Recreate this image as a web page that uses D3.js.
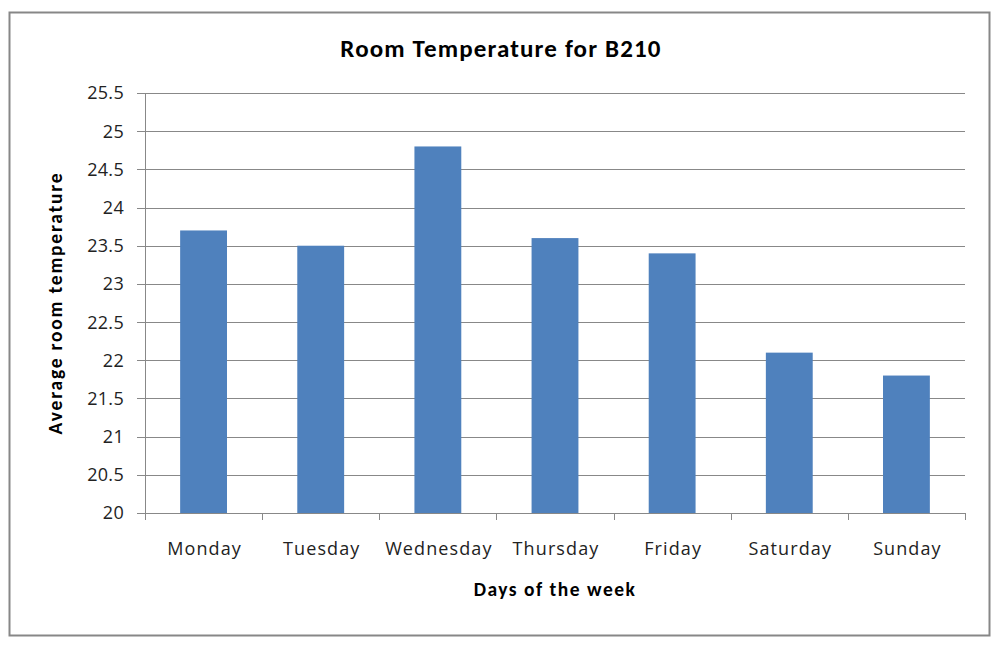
<!DOCTYPE html>
<html>
<head>
<meta charset="utf-8">
<script src="https://cdn.jsdelivr.net/npm/d3@7"></script>
<style>
  body { margin: 0; background: #fff; }
  svg text { font-family: Carlito, Calibri, Lato, "Open Sans", sans-serif; }
  svg text.tick { font-family: "Open Sans", Lato, sans-serif; }
</style>
</head>
<body>
<div id="chart"></div>
<script>
var days = ["Monday", "Tuesday", "Wednesday", "Thursday", "Friday", "Saturday", "Sunday"];
var temps = [23.7, 23.5, 24.8, 23.6, 23.4, 22.1, 21.8];
var yTicks = [20, 20.5, 21, 21.5, 22, 22.5, 23, 23.5, 24, 24.5, 25, 25.5];

var W = 1000, H = 645;
var margin = { top: 93, right: 35, bottom: 132, left: 145 };
var width = W - margin.left - margin.right;
var height = H - margin.top - margin.bottom;

var svg = d3.select("#chart").append("svg")
  .attr("width", W)
  .attr("height", H);

// outer frame
svg.append("rect")
  .attr("x", 9.5).attr("y", 12.5)
  .attr("width", 980).attr("height", 623)
  .attr("fill", "#fff")
  .attr("stroke", "#878787")
  .attr("stroke-width", 2);

var g = svg.append("g")
  .attr("transform", "translate(" + margin.left + "," + margin.top + ")");

var x = d3.scaleBand()
  .domain(days)
  .range([0, width])
  .paddingInner(0.6)
  .paddingOuter(0.3);

var y = d3.scaleLinear()
  .domain([20, 25.5])
  .range([height, 0]);

// gridlines + y ticks
g.selectAll(".grid")
  .data(yTicks)
  .enter().append("line")
  .attr("x1", -8)
  .attr("x2", width)
  .attr("y1", function (d) { return Math.round(y(d)) + 0.5; })
  .attr("y2", function (d) { return Math.round(y(d)) + 0.5; })
  .attr("stroke", "#888")
  .attr("stroke-width", 1);

g.selectAll(".ylab")
  .data(yTicks)
  .enter().append("text")
  .attr("class", "tick")
  .attr("x", -21)
  .attr("y", function (d) { return y(d); })
  .attr("dy", "0.36em")
  .attr("text-anchor", "end")
  .attr("font-size", 18)
  .attr("letter-spacing", 0.3)
  .attr("fill", "#222")
  .text(function (d) { return d; });

// y axis line
g.append("line")
  .attr("x1", 0.5).attr("x2", 0.5)
  .attr("y1", 0).attr("y2", height + 7)
  .attr("stroke", "#888");

// bars
g.selectAll(".bar")
  .data(temps)
  .enter().append("rect")
  .attr("x", function (d, i) { return x(days[i]); })
  .attr("width", x.bandwidth())
  .attr("y", function (d) { return y(d); })
  .attr("height", function (d) { return height - y(d); })
  .attr("fill", "#4F81BD");

// x category boundary ticks
var step = width / days.length;
g.selectAll(".xtick")
  .data(d3.range(days.length + 1))
  .enter().append("line")
  .attr("x1", function (d) { return Math.round(d * step) + 0.5; })
  .attr("x2", function (d) { return Math.round(d * step) + 0.5; })
  .attr("y1", height)
  .attr("y2", height + 7)
  .attr("stroke", "#888");

g.selectAll(".xlab")
  .data(days)
  .enter().append("text")
  .attr("class", "tick")
  .attr("x", function (d) { return x(d) + x.bandwidth() / 2 + 1; })
  .attr("y", height + 42)
  .attr("text-anchor", "middle")
  .attr("font-size", 18)
  .attr("letter-spacing", 1.1)
  .attr("fill", "#222")
  .text(function (d) { return d; });

// titles
svg.append("text")
  .attr("x", 501).attr("y", 57)
  .attr("text-anchor", "middle")
  .attr("font-size", 25)
  .attr("letter-spacing", 1.15)
  .attr("font-weight", "bold")
  .text("Room Temperature for B210");

svg.append("text")
  .attr("x", 555).attr("y", 596)
  .attr("text-anchor", "middle")
  .attr("font-size", 19.5)
  .attr("letter-spacing", 1.5)
  .attr("font-weight", "bold")
  .text("Days of the week");

svg.append("text")
  .attr("transform", "translate(62," + (margin.top + height / 2) + ") rotate(-90)")
  .attr("text-anchor", "middle")
  .attr("font-size", 19.5)
  .attr("letter-spacing", 1.8)
  .attr("font-weight", "bold")
  .text("Average room temperature");
</script>
</body>
</html>
